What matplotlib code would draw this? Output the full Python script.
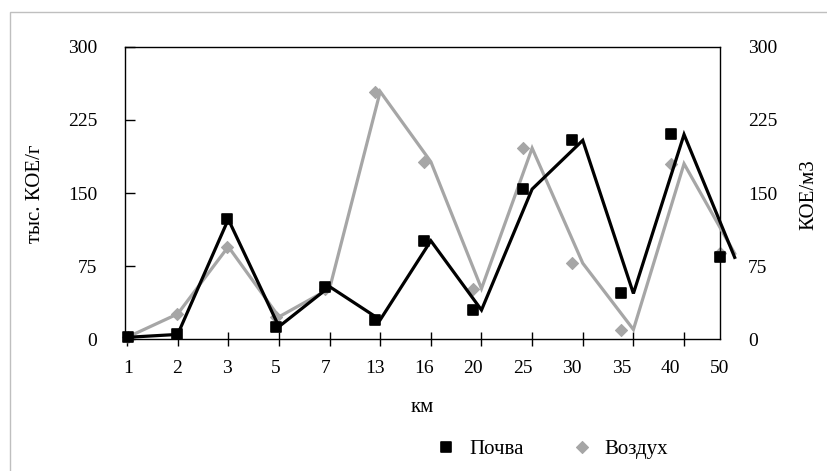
import matplotlib
matplotlib.use("Agg")
import matplotlib.pyplot as plt
from matplotlib.lines import Line2D
from matplotlib.markers import MarkerStyle
from matplotlib.patches import Rectangle

categories = ["1", "2", "3", "5", "7", "13", "16", "20", "25", "30", "35", "40", "50"]
soil = [2, 5, 123, 13, 54, 20, 101, 30, 154, 204, 47, 210, 84]      # Почва, тыс. КОЕ/г
air = [2, 26, 95, 23, 52, 254, 182, 52, 196, 78, 10, 180, 88]        # Воздух, КОЕ/м3
yticks = [0, 75, 150, 225, 300]

plt.rcParams['font.family'] = ['Liberation Serif', 'DejaVu Serif']
FS = 14
FL = 15
BLACK = '#000000'
GRAY = '#a6a6a6'

W, H = 827, 471
fig = plt.figure(figsize=(W / 100, H / 100), dpi=100)

L, R, T, B = 125, 720, 46.7, 339.3
pos = [L / W, 1 - B / H, (R - L) / W, (B - T) / H]

# helper axes: defines line geometry and the tick marks
axl = fig.add_axes(pos, zorder=1)
axl.set_xlim(-0.04, 11.71)
axl.set_ylim(0, 300)
axl.patch.set_visible(False)
for s in axl.spines.values():
    s.set_visible(False)
axl.set_xticks(range(len(categories) - 1))
axl.tick_params(axis='x', direction='inout', length=10, width=1, color='#000000',
                labelbottom=False)
axl.set_yticks([])

# main axes: markers, labels
ax = fig.add_axes(pos, zorder=2)
ax.patch.set_visible(False)
x = list(range(len(categories)))
ax.set_xlim(-0.06, 12.0)
ax.set_ylim(0, 300)

sq = MarkerStyle('s', joinstyle='round')
dm = MarkerStyle('D', joinstyle='round')

ax.plot(x, air, linestyle='none', marker=dm, markersize=6.5, color=GRAY,
        markeredgewidth=0.8, markeredgecolor=GRAY, zorder=2, clip_on=False)
ax.plot(x, air, color=GRAY, linewidth=2.3, transform=axl.transData, zorder=3,
        clip_on=False, solid_joinstyle='miter')
ax.plot(x, soil, color=BLACK, linewidth=2.3, transform=axl.transData, zorder=4,
        clip_on=False, solid_joinstyle='miter')
ax.plot(x, soil, linestyle='none', marker=sq, markersize=7, color=BLACK,
        markeredgewidth=1.2, markeredgecolor=BLACK, zorder=5, clip_on=False)

ax.set_xticks(x)
ax.set_xticklabels(categories, fontsize=FS)
ax.tick_params(axis='x', length=0, pad=15)
ax.set_yticks(yticks)
ax.set_yticklabels([str(v) for v in yticks], fontsize=FS)
ax.tick_params(axis='y', direction='in', length=7, width=1, pad=20)
for s in ax.spines.values():
    s.set_linewidth(1)
    s.set_color('#000000')

axr = ax.twinx()
axr.set_ylim(0, 300)
axr.set_yticks(yticks)
axr.set_yticklabels([str(v) for v in yticks], fontsize=FS)
axr.tick_params(axis='y', length=0, pad=20)
for s in axr.spines.values():
    s.set_visible(False)

fig.text(422.5 / W, 1 - 408 / H, 'км', ha='center', va='center', fontsize=FL)
fig.text(35 / W, 1 - 194 / H, 'тыс. КОЕ/г', ha='center', va='center',
         rotation=90, fontsize=FL)
fig.text(809 / W, 1 - 195 / H, 'КОЕ/м3', ha='center', va='center',
         rotation=90, fontsize=FL)

handles = [Line2D([], [], linestyle='none', marker=sq, markersize=7, color=BLACK,
                  markeredgewidth=1.2, markeredgecolor=BLACK),
           Line2D([], [], linestyle='none', marker=dm, markersize=6.5, color=GRAY,
                  markeredgewidth=0.8, markeredgecolor=GRAY)]
fig.legend(handles, ['Почва', 'Воздух'], loc='center',
           bbox_to_anchor=(552 / W, 1 - 449 / H), ncol=2, frameon=False,
           fontsize=FL, handlelength=1.0, handletextpad=0.6, columnspacing=2.3)

fig.patches.append(Rectangle((10 / W, -0.1), 1.2, (1 - 12 / H) + 0.1,
                             transform=fig.transFigure, fill=False,
                             edgecolor='#bfbfbf', linewidth=1))

fig.savefig('out.png', dpi=100)
